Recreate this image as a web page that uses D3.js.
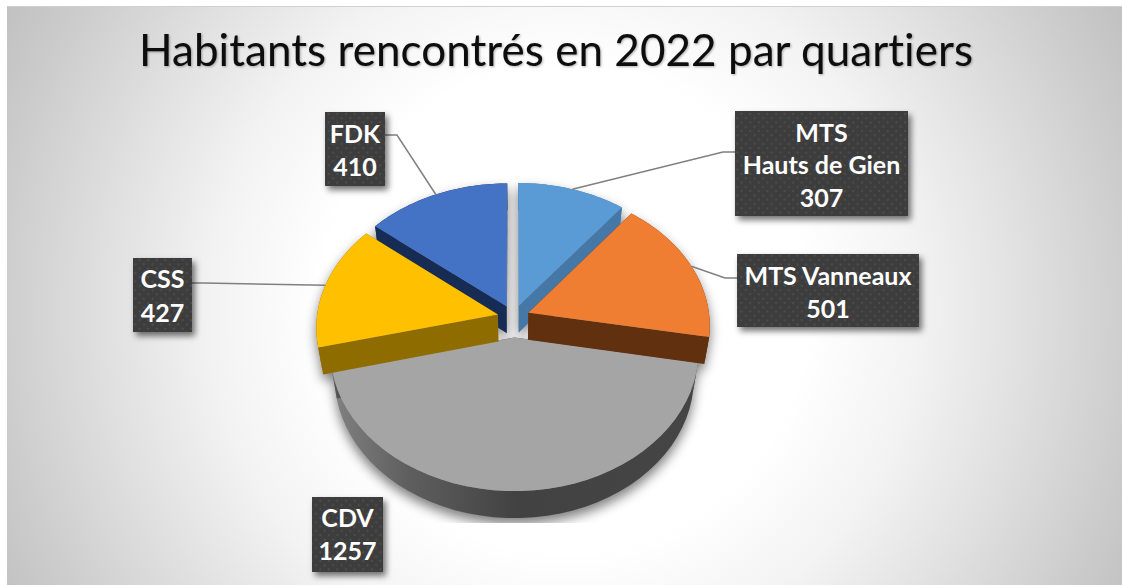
<!DOCTYPE html>
<html><head><meta charset="utf-8">
<script src="https://cdnjs.cloudflare.com/ajax/libs/d3/7.8.5/d3.min.js"></script>
<style>html,body{margin:0;padding:0;background:#fff;overflow:hidden}svg{display:block}</style>
</head><body><div id="c"></div>
<script>
const titleText = "Habitants rencontrés en 2022 par quartiers";
const categories = ["MTS\nHauts de Gien", "MTS Vanneaux", "CDV", "CSS", "FDK"];
const values = [307, 501, 1257, 427, 410];
const topColors = ["#5b9bd5", "#f07e32", "#a5a5a5", "#ffc000", "#4472c4"];
const wallColors = ["#4578a6", "#60300f", "#555555", "#8e6c00", "#172c54"];
const explode = [16, 16, 27, 16, 16];
// label boxes: left, top, right, bottom; side the leader leaves from
const labelBoxes = [[735,111,908,216],[737,254,919,327],[312,497,383,572],[133,258,192,332],[325,112,385,186]];
const labelBaselines = [[142,174,207],[285,318],[527,560],[288,322],[143,176]];
const leaderSide = ["left","left",null,"right","right"];
const leaderY = [152,278,null,283,135];

const W = 1122, H = 585;
const cx = 513.5, cy = 317, R = 181, k = 0.75, D = 2000, depth = 27, converge = 0.025;

const svg = d3.select("#c").append("svg").attr("width", W).attr("height", H);
const defs = svg.append("defs");
const bg = defs.append("radialGradient").attr("id","bg").attr("gradientUnits","userSpaceOnUse")
  .attr("cx",565).attr("cy",310).attr("r",640);
[[0,"#ffffff"],[0.38,"#ffffff"],[0.55,"#f3f3f3"],[0.72,"#e0e0e0"],[0.9,"#cbcbcb"],[1,"#c0c0c0"]].forEach(s=>bg.append("stop").attr("offset",s[0]).attr("stop-color",s[1]));
const rimG = defs.append("linearGradient").attr("id","rim").attr("gradientUnits","userSpaceOnUse").attr("x1",335).attr("x2",697).attr("y1",0).attr("y2",0);
[[0,"#808080"],[0.2,"#5f5f5f"],[0.5,"#424242"],[1,"#454545"]].forEach(s=>rimG.append("stop").attr("offset",s[0]).attr("stop-color",s[1]));
const pat = defs.append("pattern").attr("id","dots").attr("patternUnits","userSpaceOnUse").attr("width",8.6).attr("height",8.6);
pat.append("rect").attr("width",8.6).attr("height",8.6).attr("fill","#3d3d3d");
pat.append("circle").attr("cx",2).attr("cy",2).attr("r",1.1).attr("fill","#505050");
pat.append("circle").attr("cx",6.3).attr("cy",6.3).attr("r",1.1).attr("fill","#505050");
const blur = defs.append("filter").attr("id","blur").attr("x","-20%").attr("y","-20%").attr("width","140%").attr("height","140%");
blur.append("feGaussianBlur").attr("stdDeviation",6);
const ds = defs.append("filter").attr("id","boxShadow").attr("x","-30%").attr("y","-30%").attr("width","160%").attr("height","160%");
ds.append("feDropShadow").attr("dx",3).attr("dy",4).attr("stdDeviation",3).attr("flood-color","#000").attr("flood-opacity",.55);
const ts = defs.append("filter").attr("id","titleShadow").attr("x","-5%").attr("y","-20%").attr("width","110%").attr("height","140%");
ts.append("feDropShadow").attr("dx",1).attr("dy",1).attr("stdDeviation",1).attr("flood-color","#000").attr("flood-opacity",.3);
defs.append("clipPath").attr("id","shClip").append("rect").attr("x",7).attr("y",7).attr("width",W-7).attr("height",516);

svg.append("rect").attr("width",W).attr("height",H).attr("fill","#fff");
svg.append("rect").attr("x",7).attr("y",7).attr("width",W-7).attr("height",H-7).attr("fill","url(#bg)");
svg.append("line").attr("x1",7).attr("x2",W).attr("y1",6.5).attr("y2",6.5).attr("stroke","#d0d0d0");

const pie = d3.pie().sort(null).startAngle(0).endAngle(2*Math.PI);
const arcs = pie(values).map((d,i)=>({...d,i,mid:(d.startAngle+d.endAngle)/2,e:explode[i]}));

function proj(d,a,r,z){
  const u = r*Math.sin(a)+d.e*Math.sin(d.mid), v = r*Math.cos(a)+d.e*Math.cos(d.mid);
  const s = D/(D+v), zs = 1-z*converge;
  return [cx+u*s*zs, cy-v*k*s+z*depth];
}
const line = d3.line();
const arcPts = (d,z,r=R)=>d3.range(0,41).map(t=>proj(d,d.startAngle+(d.endAngle-d.startAngle)*t/40,r,z));
const topPath = d=>line([proj(d,0,0,0),...arcPts(d,0)])+"Z";
const rimPath = d=>line([...arcPts(d,0),...arcPts(d,1).reverse()])+"Z";
const wallPath = (d,a)=>line([proj(d,a,0,0),proj(d,a,R,0),proj(d,a,R,1),proj(d,a,0,1)])+"Z";
const outline = d=>line([proj(d,0,0,1),...arcPts(d,1)])+"Z";

// soft shadow
const sh = svg.append("g").attr("clip-path","url(#shClip)").append("g").attr("filter","url(#blur)").attr("opacity",.5).attr("transform","translate(0,6)");
arcs.forEach(d=>{
  sh.append("path").attr("d",topPath(d)).attr("fill","#000");
  sh.append("path").attr("d",outline(d)).attr("fill","#000");
  sh.append("path").attr("d",rimPath(d)).attr("fill","#000");
});

// painter's order: far-reaching grey first, then the exploded slices
const order = [2,0,4,3,1];
const pg = svg.append("g");
order.forEach(i=>{
  const d = arcs[i], g = pg.append("g");
  const wall = i===2 ? "url(#rim)" : wallColors[i];
  g.append("path").attr("d",rimPath(d)).attr("fill",wall);
  g.append("path").attr("d",wallPath(d,d.startAngle)).attr("fill",wallColors[i]);
  g.append("path").attr("d",wallPath(d,d.endAngle)).attr("fill",wallColors[i]);
  g.append("path").attr("d",topPath(d)).attr("fill",topColors[i]);
});

// leaders
const lg = svg.append("g").attr("fill","none").attr("stroke","#808080").attr("stroke-width",1.5);
arcs.forEach(d=>{
  const side = leaderSide[d.i]; if(!side) return;
  const b = labelBoxes[d.i], y = leaderY[d.i];
  const x0 = side==="left"?b[0]:b[2], x1 = x0+(side==="left"?-12:12);
  lg.append("path").attr("d",line([[x0,y],[x1,y],proj(d,d.mid,R,0)]));
});

// labels
categories.forEach((c,i)=>{
  const b = labelBoxes[i];
  svg.append("rect").attr("x",b[0]).attr("y",b[1]).attr("width",b[2]-b[0]).attr("height",b[3]-b[1])
    .attr("fill","url(#dots)").attr("filter","url(#boxShadow)");
  [...c.split("\n"),String(values[i])].forEach((t,j)=>{
    svg.append("text").attr("x",(b[0]+b[2])/2).attr("y",labelBaselines[i][j]).attr("text-anchor","middle")
      .attr("font-family","Lato").attr("font-weight",700).attr("font-size",25).attr("fill","#fff").text(t);
  });
});

svg.append("text").attr("x",556).attr("y",66).attr("text-anchor","middle").attr("font-family","Lato")
  .attr("font-size",44).attr("fill","#0c0c0c").attr("filter","url(#titleShadow)").style("font-variant-ligatures","none")
  .attr("textLength",834).attr("lengthAdjust","spacing").text(titleText);
</script></body></html>
